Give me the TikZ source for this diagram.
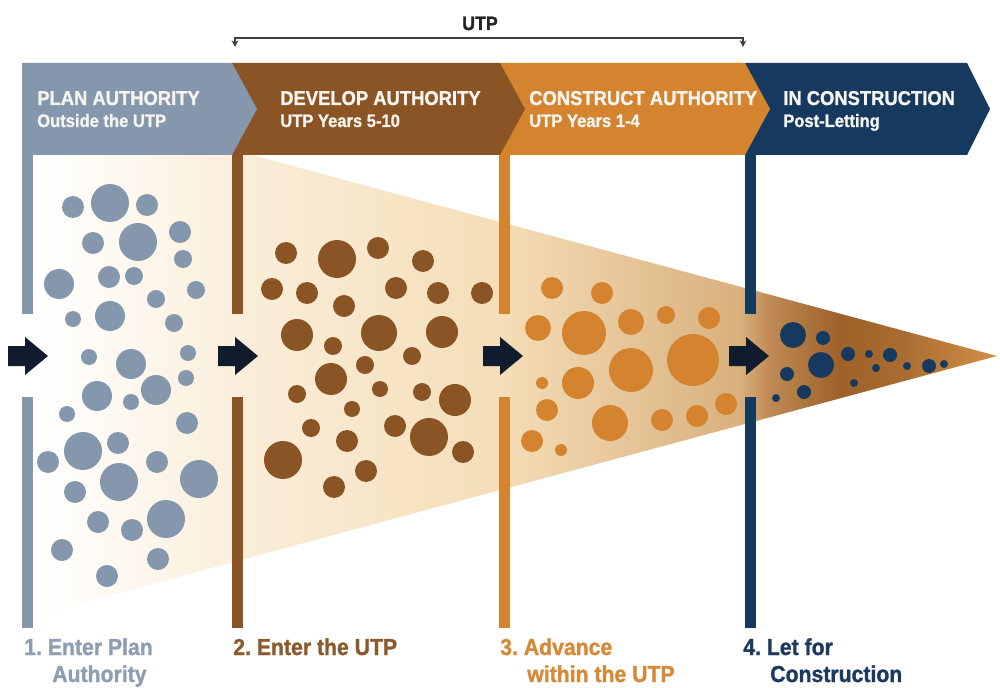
\documentclass[tikz,border=0pt]{standalone}
\usepackage{fontspec}
\setmainfont{Liberation Sans}
\newfontfamily\hfont[FakeStretch=0.92,FakeBold=1.2]{Liberation Sans}
\usetikzlibrary{arrows.meta}
\definecolor{cgray}{HTML}{8497AD}
\definecolor{cbrown}{HTML}{8B5424}
\definecolor{corange}{HTML}{D4832F}
\definecolor{cnavy}{HTML}{163A5F}
\definecolor{carrow}{HTML}{101B2D}
\definecolor{tgray}{HTML}{8E9EB2}
\definecolor{tbrown}{HTML}{8A5A2C}
\definecolor{torange}{HTML}{D68A38}
\definecolor{tnavy}{HTML}{1C3A5E}
\definecolor{hwhite}{HTML}{F6F4F0}
\pgfdeclarehorizontalshading{funnel}{100bp}{rgb(0bp)=(1,1,1); rgb(27bp)=(1,1,1); rgb(37.5bp)=(0.98,0.93,0.85); rgb(50bp)=(0.96,0.87,0.72); rgb(62.1bp)=(0.85,0.69,0.49); rgb(63.6bp)=(0.75,0.54,0.33); rgb(67.1bp)=(0.62,0.38,0.16); rgb(70.1bp)=(0.66,0.42,0.19); rgb(75bp)=(0.82,0.56,0.28); rgb(100bp)=(0.82,0.56,0.28)}
\tikzset{
  hdone/.style={anchor=base west, inner sep=0pt, text=hwhite, font=\hfont\bfseries\fontsize{15}{18}\selectfont},
  hdtwo/.style={anchor=base west, inner sep=0pt, text=hwhite, font=\hfont\bfseries\fontsize{13.5}{16}\selectfont},
  lbl/.style={anchor=base west, inner sep=0pt, font=\hfont\bfseries\frenchspacing\fontsize{17.3}{20}\selectfont},
  bar/.style={fill=#1},
  blockarrow/.style={fill=carrow}
}
\begin{document}
\begin{tikzpicture}[x=0.75pt,y=-0.75pt]
\useasboundingbox (0,0) rectangle (1000,688);
\fill[white] (0,0) rectangle (1000,688);
% funnel
\shade[shading=funnel] (0,87) -- (997,356) -- (0,625) -- cycle;
% header chevrons (right to left)
\fill[cnavy] (745,63) -- (967,63) -- (990,109) -- (967,155) -- (745,155) -- cycle;
\fill[corange] (500,63) -- (745,63) -- (770,109) -- (745,155) -- (500,155) -- cycle;
\fill[cbrown] (232,63) -- (500,63) -- (525,109) -- (500,155) -- (232,155) -- cycle;
\fill[cgray] (22,63) -- (232,63) -- (257,109) -- (232,155) -- (22,155) -- cycle;
% vertical bars
\foreach \xa/\c in {22/cgray,232/cbrown,499/corange,745/cnavy}{
  \fill[bar=\c] (\xa,155) rectangle ++(11,159);
  \fill[bar=\c] (\xa,397) rectangle ++(11,231);
}
% circles
\fill[cgray] \foreach \a/\b/\r in {73/207/11, 110/203/19, 147/205/11, 93/243/11, 138/242/19, 180/232/11, 183/259/9, 59/284/15, 109/277/11, 134/276/9, 196/290/9, 156/299/9, 73/319/8, 110/316/15, 174/323/9, 89/357/8, 131/364/15, 188/353/8, 186/378/8, 97/396/15, 131/402/8, 156/390/15, 67/414/8, 187/423/11, 83/451/19, 118/443/11, 48/462/11, 157/462/11, 119/482/19, 199/479/19, 75/492/11, 98/522/11, 132/530/11, 166/519/19, 62/550/11, 158/559/11, 107/576/11}{(\a,\b) circle[radius=\r*0.75pt]};
\fill[cbrown] \foreach \a/\b/\r in {286/253/11, 337/259/19, 378/248/11, 423/261/11, 272/289/11, 307/293/11, 396/288/11, 438/293/11, 482/293/11, 344/306/11, 297/335/16, 379/333/18, 442/332/16, 333/346/9, 412/356/9, 365/365/9, 331/379/16, 297/394/9, 380/389/8, 422/392/9, 455/400/16, 352/409/8, 311/428/9, 395/426/11, 347/441/11, 429/437/19, 463/452/11, 283/460/19, 366/471/11, 334/487/11}{(\a,\b) circle[radius=\r*0.75pt]};
\fill[corange] \foreach \a/\b/\r in {552/288/11, 602/293/11, 538/328/13, 584/333/22, 631/322/13, 666/315/9, 709/318/11, 631/370/22, 693/360/26, 542/383/6, 578/383/16, 547/410/11, 610/423/18, 662/420/11, 697/416/11, 726/404/11, 532/441/11, 561/450/6}{(\a,\b) circle[radius=\r*0.75pt]};
\fill[cnavy] \foreach \a/\b/\r in {793/335/13, 823/338/7, 821/365/13, 848/354/7, 869/354/4, 890/355/7, 876/368/4, 907/366/4, 929/366/7, 944/364/4, 787/374/7, 804/392/7, 776/398/4, 854/383/4}{(\a,\b) circle[radius=\r*0.75pt]};
% block arrows
\foreach \xa in {8,218,483,729}{
  \fill[blockarrow] (\xa,346) -- ++(17,0) -- ++(0,-9) -- ++(23,19) -- ++(-23,19) -- ++(0,-9) -- ++(-17,0) -- cycle;
}
% header texts
\node[hdone] (h1) at (37,105) {PLAN AUTHORITY};
\node[hdtwo] (h1b) at (37,127) {Outside the UTP};
\node[hdone] (h2) at (280,105) {DEVELOP AUTHORITY};
\node[hdtwo] (h2b) at (280,127) {UTP Years 5-10};
\node[hdone] (h3) at (529,105) {CONSTRUCT AUTHORITY};
\node[hdtwo] (h3b) at (529,127) {UTP Years 1-4};
\node[hdone] (h4) at (783,105) {IN CONSTRUCTION};
\node[hdtwo] (h4b) at (783,127) {Post-Letting};
% UTP bracket
\node[anchor=base, inner sep=0pt, text=black!85, font=\hfont\bfseries\fontsize{14.5}{17}\selectfont] (utp) at (480,30) {UTP};
\coordinate (bl) at (235,47);
\coordinate (br) at (743,47);
\draw[black!75, line width=0.9pt, {Stealth[length=5pt,width=5pt]}-{Stealth[length=5pt,width=5pt]}] (bl) -- ++(0,-9) -| (br);
% bottom labels
\node[lbl, text=tgray] (l1) at (24,655) {1. Enter Plan};
\node[lbl, text=tgray] (l1b) at (52,682) {Authority};
\node[lbl, text=tbrown] (l2) at (233,655) {2. Enter the UTP};
\node[lbl, text=torange] (l3) at (500,655) {3. Advance};
\node[lbl, text=torange] (l3b) at (527,682) {within the UTP};
\node[lbl, text=tnavy] (l4) at (743,655) {4. Let for};
\node[lbl, text=tnavy] (l4b) at (770,682) {Construction};
\end{tikzpicture}
\end{document}
